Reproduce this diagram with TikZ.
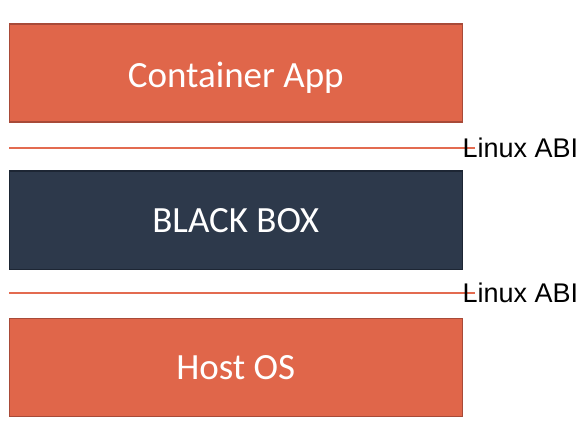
\documentclass[tikz,border=0pt]{standalone}
\usepackage{fontspec}
\setmainfont{Carlito}
\newfontfamily\arialfont{Liberation Sans}
\definecolor{org}{HTML}{E0664A}
\definecolor{orgb}{HTML}{A84A38}
\definecolor{orgl}{HTML}{E36B50}
\definecolor{navy}{HTML}{2D394B}
\definecolor{navyb}{HTML}{1D2634}
\tikzset{
  layer/.style={draw=orgb, fill=org, line width=1.5pt, minimum width=453pt,
    minimum height=98pt, inner sep=0pt, text=white, anchor=north west,
    font=\fontsize{37}{40}\selectfont, text height=24pt, text depth=0pt},
  darklayer/.style={layer, draw=navyb, fill=navy},
  abiline/.style={draw=orgl, line width=2pt},
  abilabel/.style={anchor=west, inner sep=0pt, font=\arialfont\fontsize{27}{30}\selectfont,
    text height=19.4pt, text depth=0pt}
}
\begin{document}
\begin{tikzpicture}[x=1pt,y=-1pt]
\useasboundingbox (0,0) rectangle (588,438);
\node[layer, text height=29pt] (app) at (8.5,23.5) {Container App};
\node[darklayer] (bb) at (8.5,170.5) {BLACK BOX};
\node[layer] (host) at (8.5,317.5) {Host OS};
\coordinate (l1s) at (9,148);
\coordinate (l1e) at (475,148);
\coordinate (l2s) at (9,293);
\coordinate (l2e) at (475,293);
\draw[abiline] (l1s) -- (l1e);
\draw[abiline] (l2s) -- (l2e);
\node[abilabel] (abi1) at (462.5,148) {Linux ABI};
\node[abilabel] (abi2) at (462.5,293) {Linux ABI};
\end{tikzpicture}
\end{document}
